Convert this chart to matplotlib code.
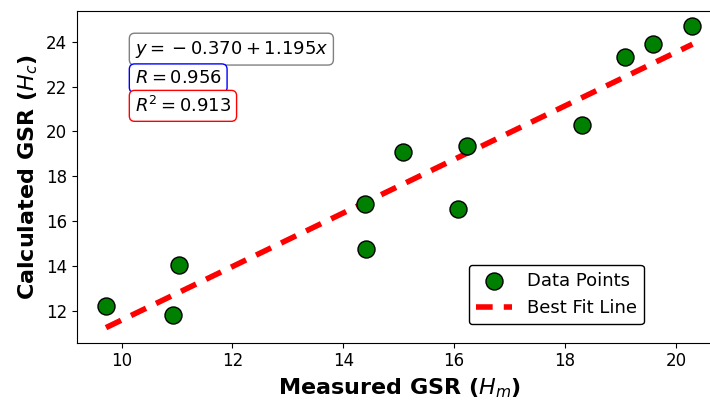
import numpy as np
import matplotlib
matplotlib.use("Agg")
import matplotlib.pyplot as plt

# measured vs calculated GSR
measured = [9.72, 10.92, 11.03, 14.40, 14.41, 15.07, 16.07, 16.24, 18.30, 19.08, 19.59, 20.30]
calculated = [12.19, 11.82, 14.06, 16.77, 14.76, 19.08, 16.55, 19.33, 20.28, 23.30, 23.88, 24.70]

# regression results shown in the boxes
intercept = -0.370
slope = 1.195
r_value = 0.956
r_squared = 0.913

plt.rcParams["font.family"] = "DejaVu Sans"

fig = plt.figure(figsize=(7.1, 4.01), dpi=100)
ax = fig.add_axes([0.108, 0.1454, 0.9086, 0.8272])

x = np.array(measured)
y = np.array(calculated)

ax.scatter(x, y, s=150, color="green", edgecolor="black", linewidth=1.0,
           label="Data Points", zorder=3)

x_line = np.array([x.min(), x.max()])
ax.plot(x_line, intercept + slope * x_line, color="red", linewidth=4,
        linestyle=(0, (3, 2)), label="Best Fit Line", zorder=2)

ax.set_xlabel(r"Measured GSR ($H_m$)", fontsize=16, fontweight="bold")
ax.set_ylabel(r"Calculated GSR ($H_c$)", fontsize=16, fontweight="bold")
ax.tick_params(labelsize=12)

sign = "-" if intercept < 0 else "+"
ax.text(0.09, 0.885, rf"$y = {{}} {sign} {abs(intercept):.3f} + {slope:.3f}x$",
        transform=ax.transAxes, fontsize=13, va="center", ha="left",
        bbox=dict(boxstyle="round", facecolor="white", edgecolor="gray"))
ax.text(0.09, 0.797, rf"$R = {r_value:.3f}$",
        transform=ax.transAxes, fontsize=13, va="center", ha="left",
        bbox=dict(boxstyle="round", facecolor="white", edgecolor="blue"))
ax.text(0.09, 0.714, rf"$R^2 = {r_squared:.3f}$",
        transform=ax.transAxes, fontsize=13, va="center", ha="left",
        bbox=dict(boxstyle="round", facecolor="white", edgecolor="red"))

ax.legend(loc="lower right", bbox_to_anchor=(0.879, 0.0555), borderaxespad=0,
          fontsize=13, edgecolor="black", framealpha=1.0)

fig.savefig("out.png", dpi=100)
